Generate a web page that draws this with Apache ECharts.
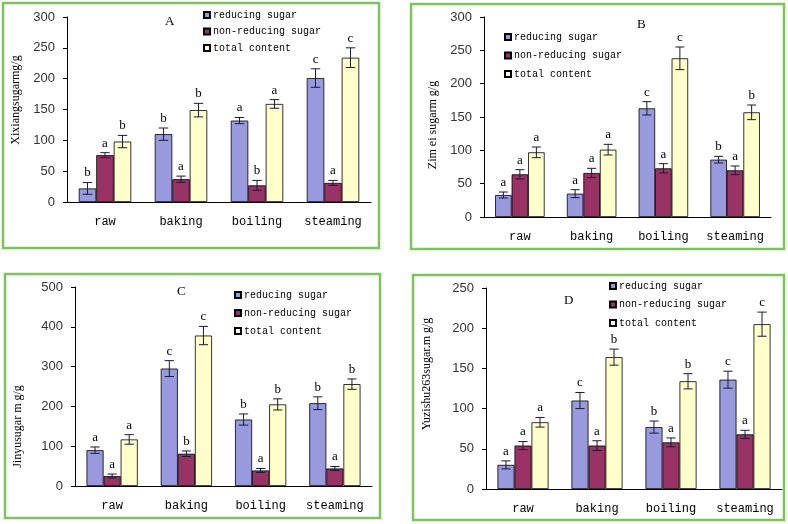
<!DOCTYPE html>
<html>
<head>
<meta charset="utf-8">
<script src="https://cdn.jsdelivr.net/npm/echarts@6/dist/echarts.min.js"></script>
<style>
html,body{margin:0;padding:0;background:#fff;}
#c{width:788px;height:524px;}
</style>
</head>
<body>
<div id="c"></div>
<script>
// ---------- data ----------
const categories = ['raw', 'baking', 'boiling', 'steaming'];
const seriesNames = ['reducing sugar', 'non-reducing sugar', 'total content'];
const panelLetters = ['A', 'B', 'C', 'D'];
const yNames = ['Xixiangsugarmg/g', 'Zim ei sugarm g/g', 'Jinyusugar m g/g', 'Yuzishu263sugar.m g/g'];
const yMax = [300, 300, 500, 250];
const yStep = [50, 50, 100, 50];

// Panel A (Xixiang)
const aReducing = [22, 110, 132, 201];
const aReducingErr = [9.5, 10, 5, 15];
const aReducingSig = ['b', 'b', 'a', 'c'];
const aNonReducing = [76, 37, 27, 31];
const aNonReducingErr = [4, 5, 8, 4];
const aNonReducingSig = ['a', 'a', 'b', 'a'];
const aTotal = [98, 149, 159, 234];
const aTotalErr = [10, 11, 7, 16];
const aTotalSig = ['b', 'b', 'a', 'c'];

// Panel B (Zimei)
const bReducing = [33, 35, 163, 86];
const bReducingErr = [4.5, 6, 10, 5];
const bReducingSig = ['a', 'a', 'c', 'b'];
const bNonReducing = [64, 66, 73, 70];
const bNonReducingErr = [7, 7, 7, 6.5];
const bNonReducingSig = ['a', 'a', 'a', 'a'];
const bTotal = [97, 101, 238, 157];
const bTotalErr = [8, 8, 17, 11];
const bTotalSig = ['a', 'a', 'c', 'b'];

// Panel C (Jinyu)
const cReducing = [90, 295, 167, 208];
const cReducingErr = [8, 20, 14, 16];
const cReducingSig = ['a', 'c', 'b', 'b'];
const cNonReducing = [25, 81, 39, 44];
const cNonReducingErr = [5, 7, 5, 5];
const cNonReducingSig = ['a', 'b', 'a', 'a'];
const cTotal = [117, 378, 205, 256];
const cTotalErr = [12, 23, 14, 13];
const cTotalSig = ['a', 'c', 'b', 'b'];

// Panel D (Yuzishu263)
const dReducing = [30, 110, 77, 136];
const dReducingErr = [5, 10, 7.5, 10.5];
const dReducingSig = ['a', 'c', 'b', 'c'];
const dNonReducing = [54, 54, 58, 68];
const dNonReducingErr = [5, 6, 5.5, 5];
const dNonReducingSig = ['a', 'a', 'a', 'a'];
const dTotal = [83, 164, 134, 205];
const dTotalErr = [6, 10, 9.5, 15];
const dTotalSig = ['a', 'b', 'b', 'c'];

// ---------- layout / style ----------
const colors = ['#9999dd', '#993366', '#ffffcc'];
const BAR_FRAC = 0.23;
const MONO = "'Liberation Mono', 'DejaVu Sans Mono', monospace";

const panels = [
  {vals: [aReducing, aNonReducing, aTotal], errs: [aReducingErr, aNonReducingErr, aTotalErr], sigs: [aReducingSig, aNonReducingSig, aTotalSig],
   grid: {left: 67, top: 17, width: 304, height: 185}, nameGap: 45, namePad: [0, 0, 0, 19],
   legend: {left: 203, top: 9, itemGap: 4.5}, title: {left: 165, top: 15},
   border: {x: 3, y: 3, width: 376, height: 245}},
  {vals: [bReducing, bNonReducing, bTotal], errs: [bReducingErr, bNonReducingErr, bTotalErr], sigs: [bReducingSig, bNonReducingSig, bTotalSig],
   grid: {left: 484, top: 17, width: 287, height: 200}, nameGap: 45, namePad: [0, 16, 0, 0],
   legend: {left: 504, top: 31, itemGap: 6.5}, title: {left: 637, top: 18},
   border: {x: 411, y: 4, width: 373, height: 245}},
  {vals: [cReducing, cNonReducing, cTotal], errs: [cReducingErr, cNonReducingErr, cTotalErr], sigs: [cReducingSig, cNonReducingSig, cTotalSig],
   grid: {left: 75, top: 287, width: 297, height: 199}, nameGap: 51, namePad: [0, 80, 0, 0],
   legend: {left: 234, top: 289, itemGap: 6}, title: {left: 177, top: 285},
   border: {x: 5, y: 274, width: 375, height: 244}},
  {vals: [dReducing, dNonReducing, dTotal], errs: [dReducingErr, dNonReducingErr, dTotalErr], sigs: [dReducingSig, dNonReducingSig, dTotalSig],
   grid: {left: 486, top: 288, width: 296, height: 201}, nameGap: 53, namePad: [0, 0, 0, 29],
   legend: {left: 609, top: 280, itemGap: 6.5}, title: {left: 564, top: 294},
   border: {x: 413, y: 275, width: 371, height: 245}}
];

const grid = [], xAxis = [], yAxis = [], series = [], legend = [], title = [], graphic = [];

panels.forEach((p, pi) => {
  grid.push(Object.assign({containLabel: false}, p.grid));
  xAxis.push({
    type: 'category', gridIndex: pi, data: categories,
    axisLine: {lineStyle: {color: '#000', width: 1}},
    axisTick: {inside: true, length: 4, lineStyle: {color: '#000'}},
    axisLabel: {interval: 0, fontFamily: MONO, fontSize: 12, color: '#000', margin: 14},
    splitLine: {show: false}
  });
  yAxis.push({
    type: 'value', gridIndex: pi, min: 0, max: yMax[pi], interval: yStep[pi],
    name: yNames[pi], nameLocation: 'middle', nameGap: p.nameGap, nameRotate: 90,
    nameTextStyle: {fontFamily: 'Liberation Serif', fontSize: 12, color: '#000', padding: p.namePad},
    axisLine: {show: true, lineStyle: {color: '#000', width: 1}},
    axisTick: {show: true, inside: false, length: 4, lineStyle: {color: '#000'}},
    axisLabel: {fontFamily: 'Liberation Sans', fontSize: 13, color: '#333', margin: 12},
    splitLine: {show: false}
  });
  seriesNames.forEach((nm, k) => {
    series.push({
      type: 'bar', name: nm, xAxisIndex: pi, yAxisIndex: pi,
      data: p.vals[k], barWidth: (BAR_FRAC * 100) + '%', barGap: '0%',
      itemStyle: {color: colors[k], borderColor: '#000', borderWidth: 0.8},
      emphasis: {disabled: true}
    });
  });
  seriesNames.forEach((nm, k) => {
    const errs = p.errs[k], sigs = p.sigs[k];
    series.push({
      type: 'custom', name: 'err-' + pi + '-' + k, xAxisIndex: pi, yAxisIndex: pi, z: 5,
      data: p.vals[k].map((v, i) => [i, v, errs[i]]),
      encode: {x: 0, y: 1},
      renderItem: function (params, api) {
        const i = api.value(0), v = api.value(1), e = api.value(2);
        const band = api.size([1, 0])[0];
        const bw = band * BAR_FRAC;
        const c = api.coord([i, v]);
        const x = c[0] + (k - 1) * bw;
        const top = api.coord([i, v + e])[1];
        const bot = api.coord([i, v - e])[1];
        const cap = bw * 0.27;
        const st = {stroke: '#1a1a33', lineWidth: 1};
        return {type: 'group', children: [
          {type: 'line', shape: {x1: x, y1: top, x2: x, y2: bot}, style: st},
          {type: 'line', shape: {x1: x - cap, y1: top, x2: x + cap, y2: top}, style: st},
          {type: 'line', shape: {x1: x - cap, y1: bot, x2: x + cap, y2: bot}, style: st},
          {type: 'text', x: x, y: top - 3, style: {text: sigs[params.dataIndex], fill: '#000',
            font: '13px "Liberation Serif"', align: 'center', verticalAlign: 'bottom'}}
        ]};
      }
    });
  });
  legend.push({
    orient: 'vertical', left: p.legend.left, top: p.legend.top, itemGap: p.legend.itemGap,
    data: seriesNames, icon: 'rect', itemWidth: 6, itemHeight: 6, padding: 0,
    selectedMode: false,
    textStyle: {fontFamily: MONO, fontSize: 10, color: '#000', lineHeight: 12,
      padding: [0, 0, 0, -2]}
  });
  title.push({
    text: panelLetters[pi], left: p.title.left, top: p.title.top, padding: 0,
    textStyle: {fontFamily: 'Liberation Serif', fontSize: 13, fontWeight: 'normal', color: '#000'}
  });
  graphic.push({
    type: 'rect', shape: p.border, silent: true, z: 100,
    style: {fill: 'none', stroke: '#7cc35c', lineWidth: 2.5}
  });
});

const chart = echarts.init(document.getElementById('c'), null, {renderer: 'canvas'});
chart.setOption({
  animation: false,
  backgroundColor: '#fff',
  title, legend, grid, xAxis, yAxis, series, graphic
});
</script>
</body>
</html>
